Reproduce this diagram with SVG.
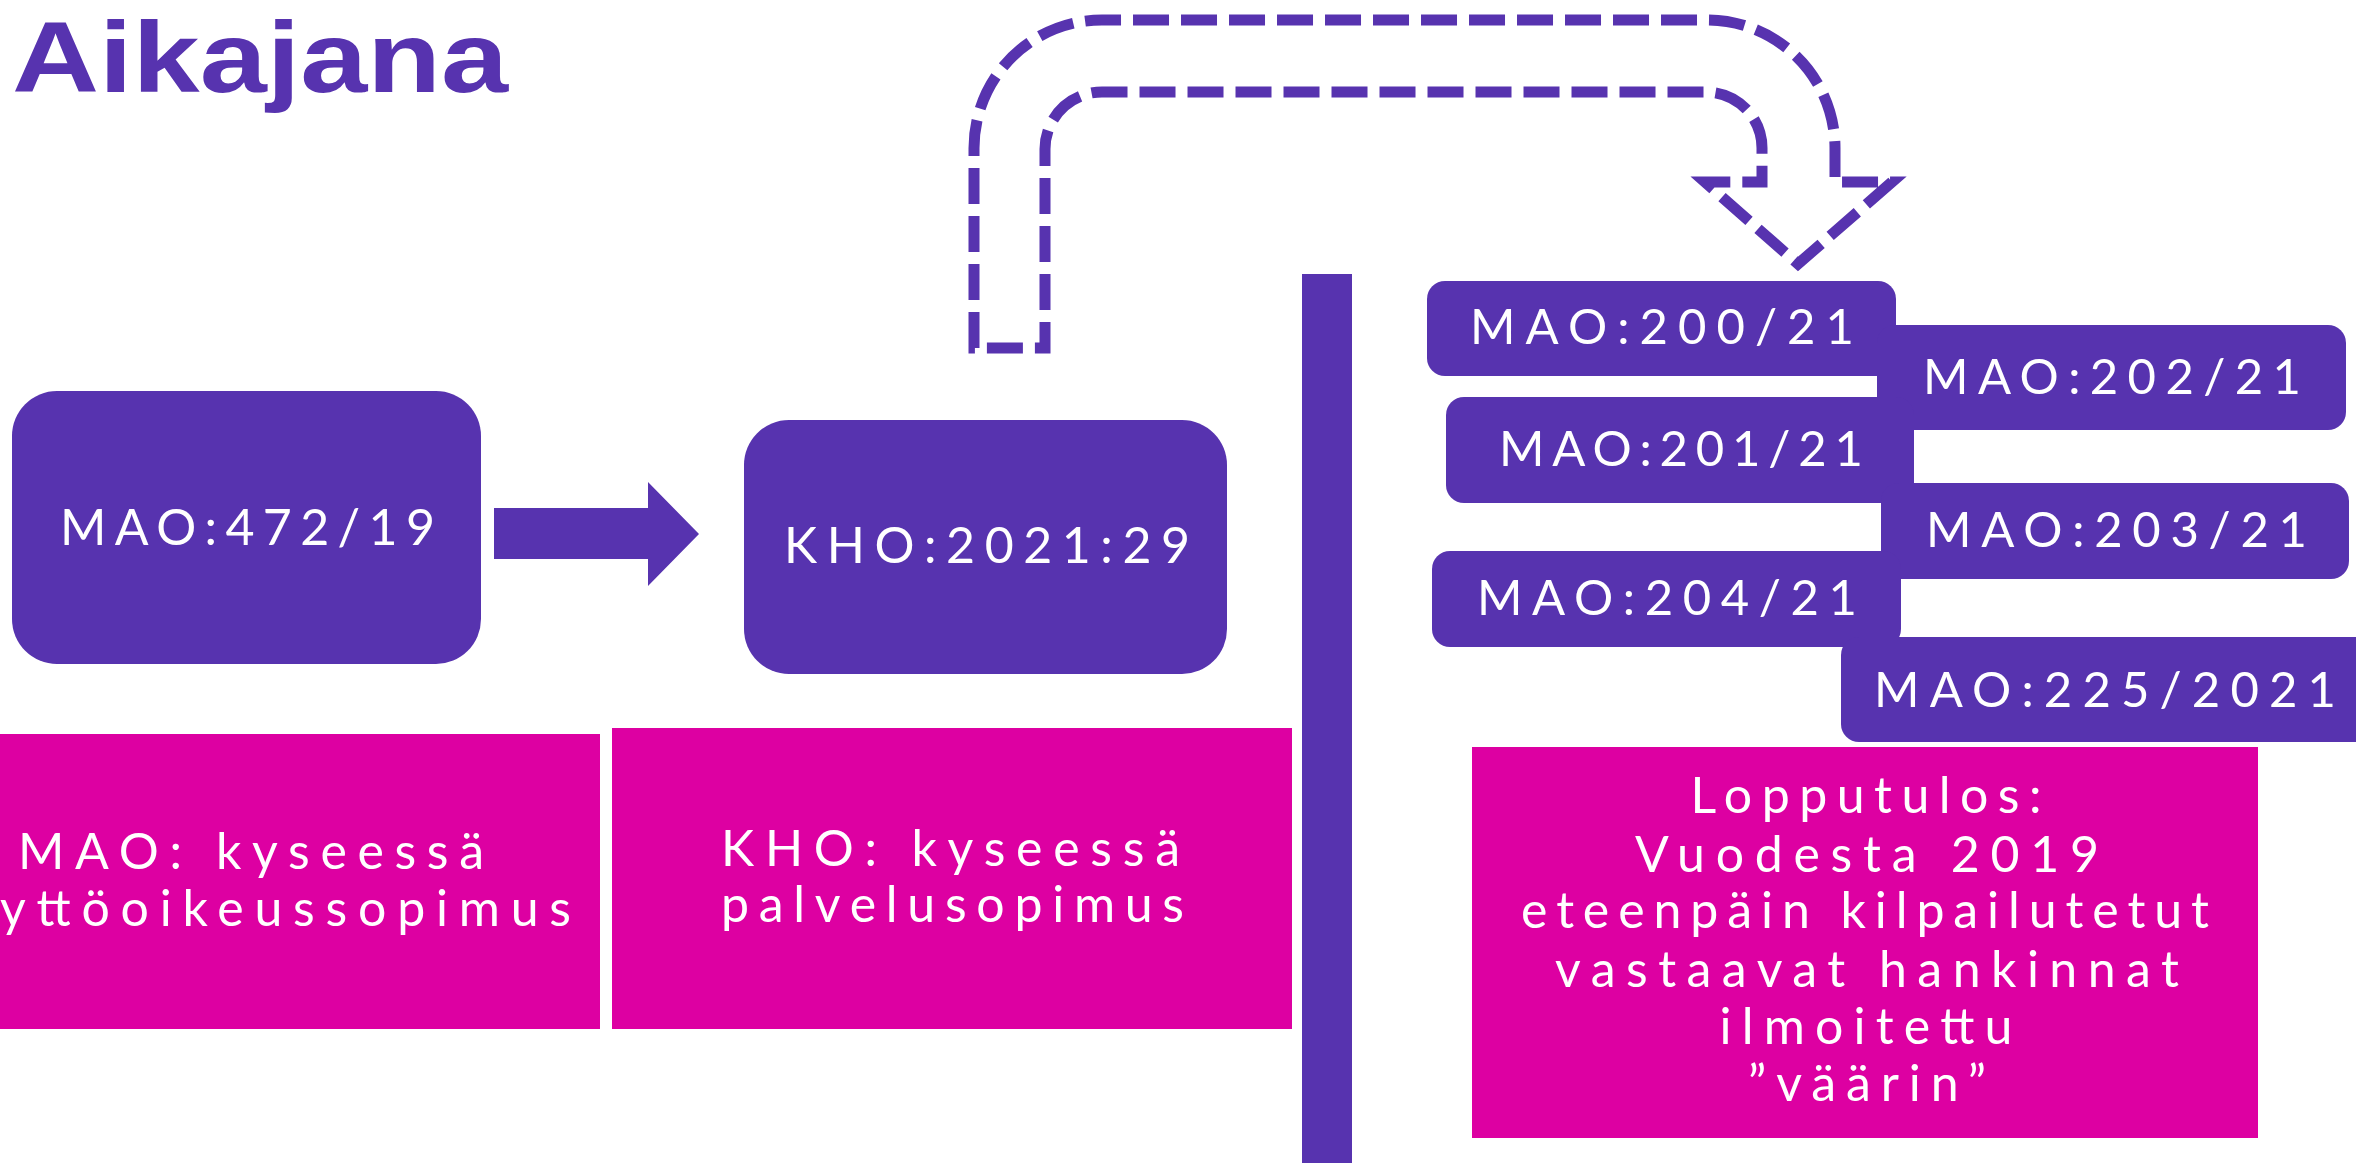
<svg xmlns="http://www.w3.org/2000/svg" width="2356" height="1163" viewBox="0 0 2356 1163">
<style>
.p{fill:#5733AF}
.m{fill:#DD00A2}
.t{font-family:Lato,"Liberation Sans",sans-serif;fill:#FFFFFF;font-weight:400}
.c{text-anchor:middle}
.dash{fill:none;stroke:#5733AF;stroke-width:11;stroke-dasharray:36 12}
</style>
<rect width="2356" height="1163" fill="#FFFFFF"/>
<g id="title">
<text x="12" y="92" font-family="'Liberation Sans',Arial,sans-serif" font-weight="700" font-size="100" fill="#5733AF" textLength="496" lengthAdjust="spacingAndGlyphs">Aikajana</text>
</g>
<g id="mao472">
<rect class="p" x="12" y="391" width="469" height="273" rx="45"/>
<text class="t" x="60" y="545" font-size="50" textLength="375">MAO:472/19</text>
</g>
<g id="kho2021">
<rect class="p" x="744" y="420" width="483" height="254" rx="45"/>
<text class="t" x="784" y="563" font-size="50" textLength="406">KHO:2021:29</text>
</g>
<g id="divider">
<rect class="p" x="1302" y="274" width="50" height="889"/>
</g>
<g id="mao-note">
<rect class="m" x="0" y="734" width="600" height="295"/>
<text class="t" x="18" y="869" font-size="50" textLength="466">MAO: kyseessä</text>
<text class="t" x="0" y="926" font-size="50" textLength="571">yttöoikeussopimus</text>
</g>
<g id="kho-note">
<rect class="m" x="612" y="728" width="680" height="301"/>
<text class="t" x="721" y="866" font-size="50" textLength="459">KHO: kyseessä</text>
<text class="t" x="721" y="922" font-size="50" textLength="463">palvelusopimus</text>
</g>
<g id="mao200">
<rect class="p" x="1427" y="281" width="469" height="95" rx="18"/>
<text class="t" x="1470" y="344" font-size="49" textLength="384">MAO:200/21</text>
</g>
<g id="mao202">
<rect class="p" x="1877" y="325" width="469" height="105" rx="18"/>
<text class="t" x="1923" y="394" font-size="49" textLength="378">MAO:202/21</text>
</g>
<g id="mao201">
<rect class="p" x="1446" y="397" width="468" height="106" rx="18"/>
<text class="t" x="1499" y="466" font-size="49" textLength="364">MAO:201/21</text>
</g>
<g id="mao203">
<rect class="p" x="1881" y="483" width="468" height="96" rx="18"/>
<text class="t" x="1926" y="547" font-size="49" textLength="381">MAO:203/21</text>
</g>
<g id="mao204">
<rect class="p" x="1432" y="551" width="469" height="96" rx="18"/>
<text class="t" x="1477" y="615" font-size="49" textLength="380">MAO:204/21</text>
</g>
<g id="mao225">
<rect class="p" x="1841" y="637" width="531" height="105" rx="18"/>
<text class="t" x="1874" y="707" font-size="49" textLength="462">MAO:225/2021</text>
</g>
<g id="result">
<rect class="m" x="1472" y="747" width="786" height="391"/>
<text class="t c" x="1866" y="813" font-size="50" textLength="351">Lopputulos:</text>
<text class="t c" x="1867" y="872" font-size="50" textLength="464">Vuodesta 2019</text>
<text class="t c" x="1865" y="928" font-size="50" textLength="688">eteenpäin kilpailutetut</text>
<text class="t c" x="1867" y="987" font-size="50" textLength="624">vastaavat hankinnat</text>
<text class="t c" x="1866" y="1044" font-size="50" textLength="293">ilmoitettu</text>
<text class="t c" x="1867" y="1101" font-size="50" textLength="238">”väärin”</text>
</g>
<g id="connectors">
<polygon class="p" points="494,508 648,508 648,482 699,534 648,586 648,559 494,559"/>
<path class="dash" d="M974,348 L974,148 A128,128 0 0 1 1102,20 L1707,20 A128,128 0 0 1 1835,148 L1835,182 L1892,182 L1798,264 L1705,182 L1762,182 L1762,148 A56,56 0 0 0 1706,92 L1102,92 A57,57 0 0 0 1045,149 L1045,348 Z"/>
</g>
</svg>
